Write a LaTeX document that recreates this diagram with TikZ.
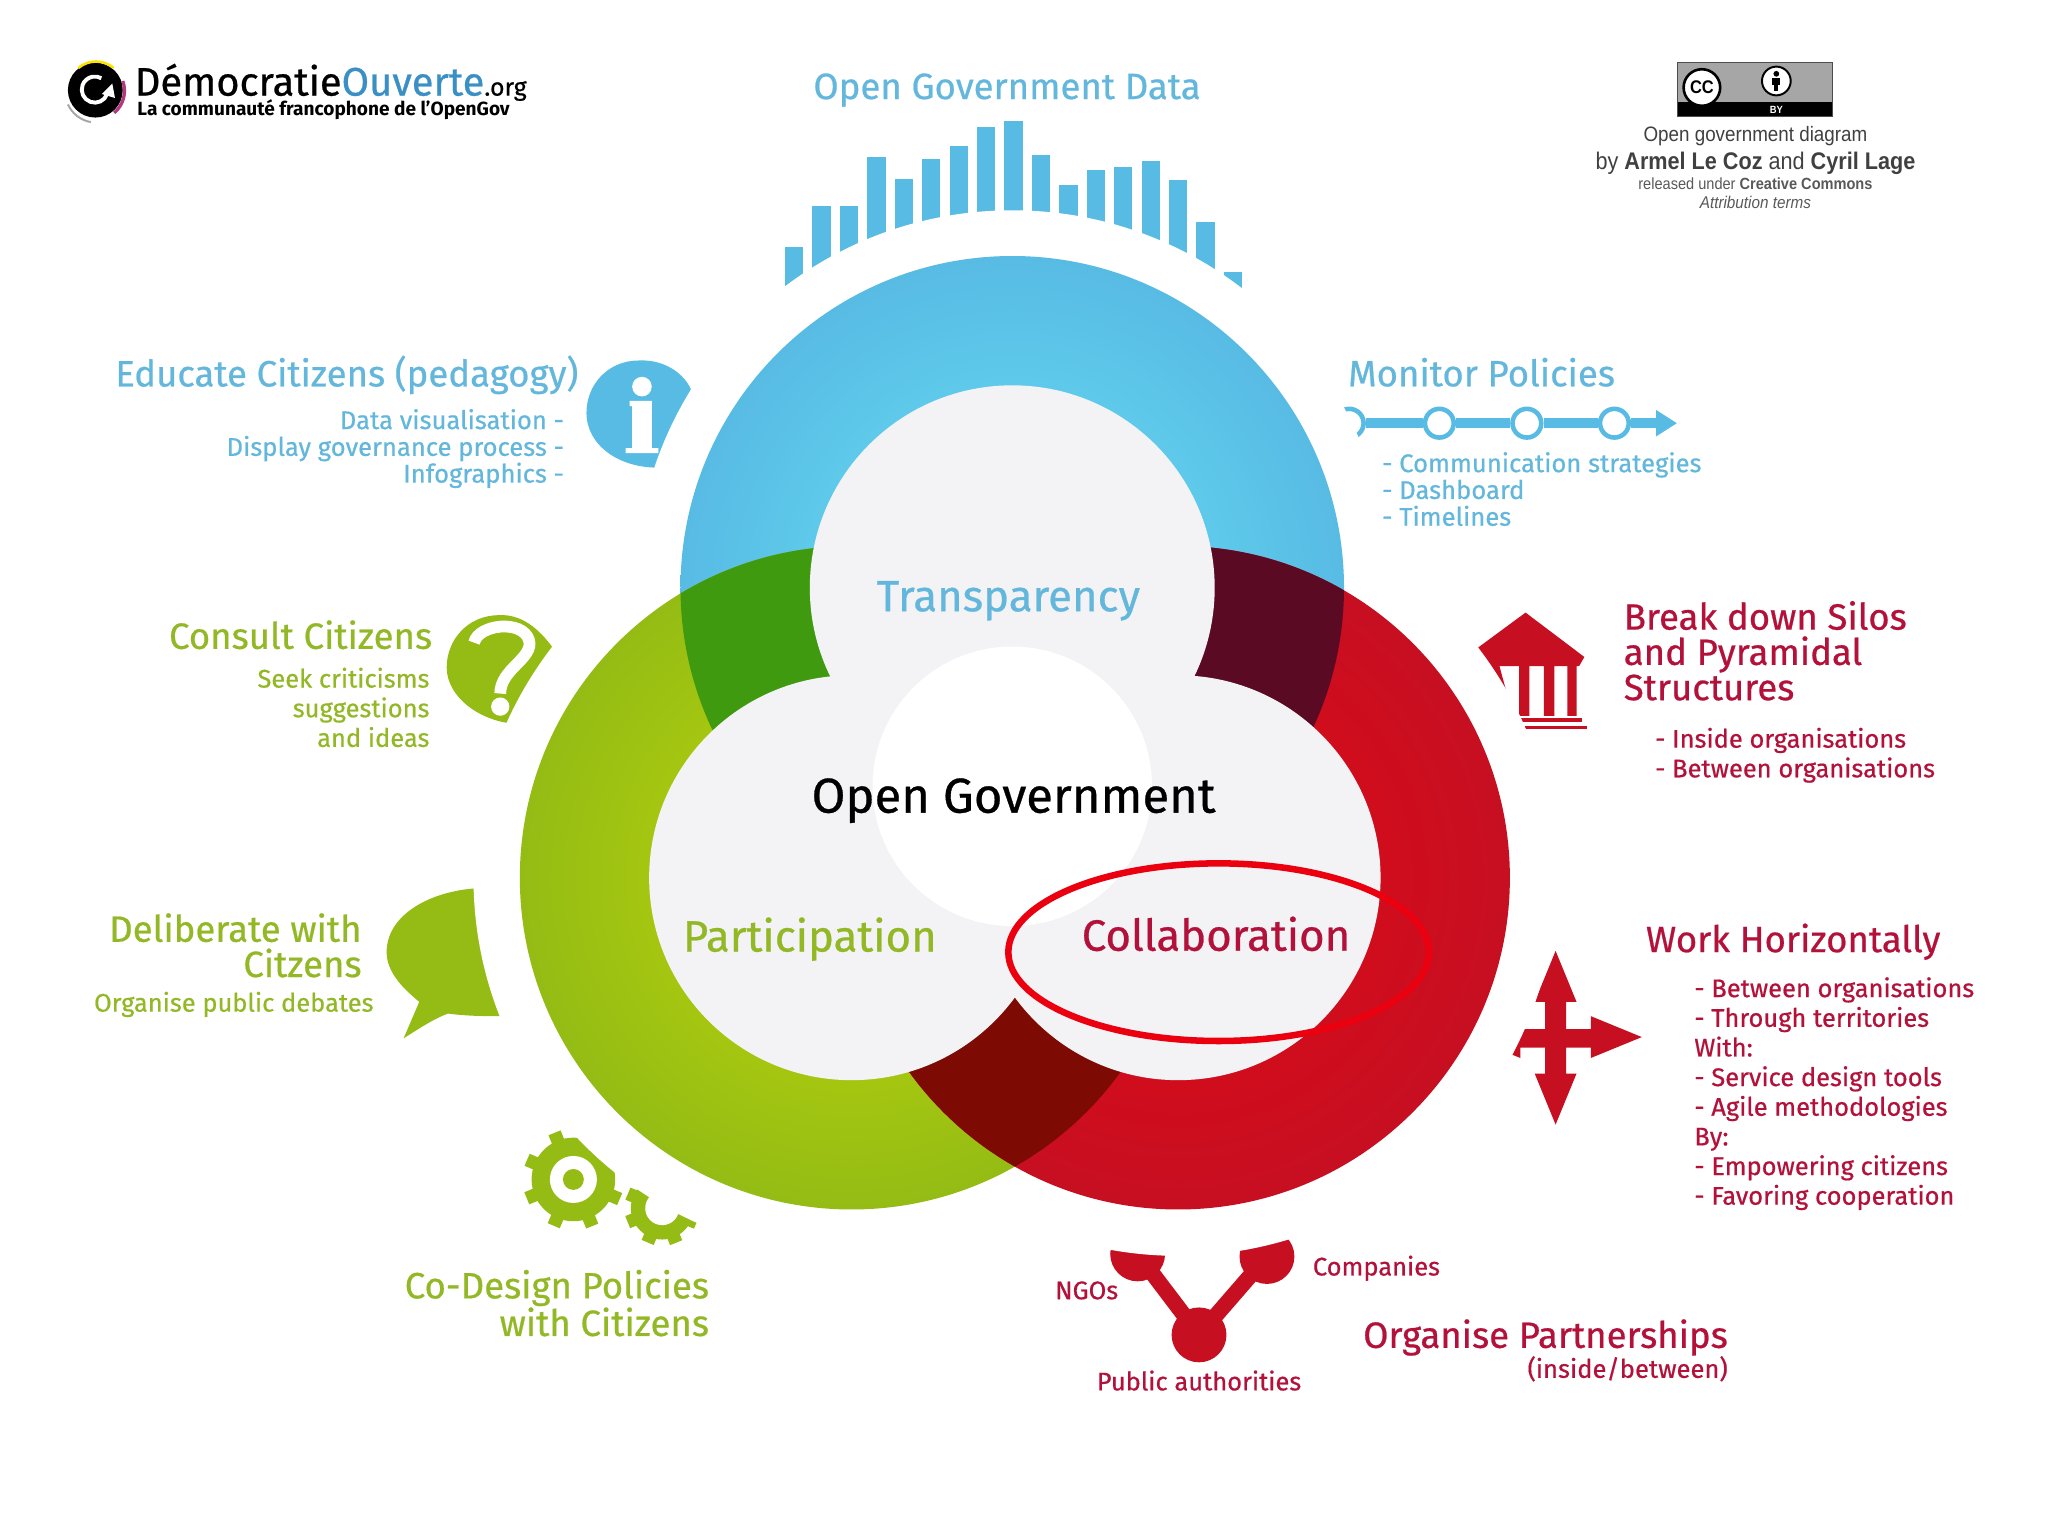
\documentclass[tikz,border=0pt]{standalone}
\usepackage{fontspec}
\setmainfont{Fira Sans}
\newfontfamily\medfont{Fira Sans}[FakeBold=0.6]
\newfontfamily\ccfont{Liberation Sans}[FakeStretch=0.9]
\usetikzlibrary{arrows.meta}
\definecolor{tblue}{HTML}{63B7DC}
\definecolor{tgreen}{HTML}{93B826}
\definecolor{tred}{HTML}{B3113A}
\definecolor{iblue}{HTML}{58BBE4}
\definecolor{igreen}{HTML}{94BC14}
\definecolor{ired}{HTML}{C70F22}
\definecolor{discgrey}{HTML}{F3F3F6}
\definecolor{darkgreen}{HTML}{3F9A10}
\definecolor{darkwine}{HTML}{5A0A22}
\definecolor{darkbrown}{HTML}{7E0A04}
\definecolor{ellred}{HTML}{EB000F}
\definecolor{ouverte}{HTML}{3A8FC4}
\begin{document}
\begin{tikzpicture}[x=1pt, y=-1pt,
  every node/.style={inner sep=0pt},
  head/.style={font=\medfont\fontsize{28}{27}\selectfont},
  big/.style={font=\medfont\fontsize{33.5}{34}\selectfont},
  sub/.style={font=\medfont\fontsize{19.6}{20.5}\selectfont},
  subb/.style={font=\medfont\fontsize{19.5}{22.7}\selectfont},
  cutter/.style={fill=white},
  tick/.style={circle, draw=iblue, fill=white, line width=3.5pt, minimum size=22pt},
  lobe/.style={circle, fill=ired, minimum size=42pt},
  link/.style={ired, line width=12pt}]
\useasboundingbox (0,0) rectangle (1568,1176);
\coordinate (cblue) at (775,450);
\coordinate (cgreen) at (652,672);
\coordinate (cred) at (902,672);

% data bars
\foreach \t [count=\i from 0] in {189,158,158,120,137,122,112,97,93,119,142,130,128,123,138,170,208}
  \fill[iblue] ({601+21*\i},\t) rectangle ({615+21*\i},260);

% timeline
\node[tick] (tstart) at (1033,324) {};
\node[tick] (tone) at (1102,324) {};
\node[tick] (ttwo) at (1169,324) {};
\node[tick] (tthree) at (1236,324) {};
\coordinate (tend) at (1284,324);
\draw[iblue, line width=8pt] (tstart) -- (tone);
\draw[iblue, line width=8pt] (tone) -- (ttwo);
\draw[iblue, line width=8pt] (ttwo) -- (tthree);
\draw[iblue, line width=8pt, -{Triangle[length=16pt,width=19pt]}] (tthree) -- (tend);

% info icon
\fill[iblue] (529,298) .. controls (522,283) and (505,275) .. (489,276)
  .. controls (465,276) and (449,295) .. (449,316)
  .. controls (449,341) and (474,358) .. (503,358)
  .. controls (511,340) and (520,318) .. (529,298) -- cycle;
\fill[white] (491.5,296) circle[radius=7.5];
\fill[white] (482,307) -- (499,307) -- (499,343) -- (504,343) -- (504,347) -- (479,347)
  -- (479,343) -- (484,343) -- (484,311) -- (482,311) -- cycle;

% question icon
\fill[igreen] (424,497) .. controls (412,480) and (398,470) .. (382,471)
  .. controls (358,471) and (342,490) .. (342,511)
  .. controls (342,534) and (368,552) .. (393,554)
  .. controls (404,535) and (414,515) .. (424,497) -- cycle;
\draw[white, line width=9pt] (363,492) .. controls (366,478) and (400,474) .. (405,490)
  .. controls (409,504) and (383,512) .. (383,531);
\fill[white] (383,541) circle[radius=7];

% speech bubble
\fill[igreen] (366,680) .. controls (330,682) and (296,700) .. (296,729)
  .. controls (296,745) and (310,758) .. (321,767) -- (309,795)
  .. controls (320,788) and (332,780) .. (343,776)
  .. controls (358,778) and (372,778) .. (384,778)
  .. controls (375,750) and (368,715) .. (366,680) -- cycle;

% gears
\foreach \gx/\gy/\gr/\gt in {439/903/32/38.5, 507/925/24/28.5} {
  \fill[igreen] (\gx,\gy) circle[radius=\gr];
  \foreach \a in {0,45,...,315}
    \fill[igreen, shift={(\gx,\gy)}, rotate=\a+22] (-5,0) rectangle (5,\gt);
}
\fill[white] (439,903) circle[radius=18];
\fill[igreen] (439,903) circle[radius=8];
\fill[white] (507,925) circle[radius=13];

% temple
\fill[ired] (1168,469) -- (1213,503) -- (1209,510) -- (1207,510) -- (1207,548) -- (1200,548)
  -- (1200,510) -- (1190,510) -- (1190,548) -- (1182,548) -- (1182,510) -- (1171,510)
  -- (1171,548) -- (1163,548) -- (1163,510) -- (1148,510) -- (1154,532) -- (1120,490) -- (1130,497) -- cycle;
\fill[ired] (1162,550) rectangle (1211,553);
\fill[ired] (1166,555.5) rectangle (1215,558);

% cross arrows
\fill[ired] (1191,728) -- (1207,767) -- (1199,767) -- (1199,788) -- (1218,788) -- (1218,778)
  -- (1257,794) -- (1218,810) -- (1218,802) -- (1199,802) -- (1199,822) -- (1207,822)
  -- (1191,861) -- (1175,822) -- (1183,822) -- (1183,802) -- (1164,802) -- (1164,810)
  -- (1124,794) -- (1164,778) -- (1164,788) -- (1183,788) -- (1183,767) -- (1175,767) -- cycle;

% partnerships
\node[lobe] (pubauth) at (918,1022) {};
\node[lobe] (ngo) at (871,960) {};
\node[lobe] (company) at (970,962) {};
\draw[link] (pubauth.center) -- (ngo.center);
\draw[link] (pubauth.center) -- (company.center);

% white gap round the rings
\fill[cutter] (cblue) circle[radius=289];
\fill[cutter] (cgreen) circle[radius=289.5];
\fill[cutter] (cred) circle[radius=289.5];

% rings
\shade[inner color=iblue!60!cyan!75!white, outer color=iblue] (cblue) circle[radius=254];
\shade[inner color=igreen!60!yellow, outer color=igreen] (cgreen) circle[radius=254];
\shade[inner color=red!40!ired, outer color=ired] (cred) circle[radius=254];
\begin{scope}
  \clip (cgreen) circle[radius=254];
  \fill[darkgreen] (cblue) circle[radius=254];
\end{scope}
\begin{scope}
  \clip (cred) circle[radius=254];
  \fill[darkwine] (cblue) circle[radius=254];
\end{scope}
\begin{scope}
  \clip (cred) circle[radius=254];
  \fill[darkbrown] (cgreen) circle[radius=254];
\end{scope}
\fill[discgrey] (cblue) circle[radius=155];
\fill[discgrey] (cgreen) circle[radius=155];
\fill[discgrey] (cred) circle[radius=155];
\fill[white] (775,602) circle[radius=107];

\draw[ellred, line width=5pt] (933,729) ellipse[x radius=161, y radius=68];

% centre labels
\node[font=\medfont\fontsize{37.5}{38}\selectfont, text=black] (opengov) at (776,613) {Open Government};
\node[big, text=tblue] (transparency) at (772,460) {Transparency};
\node[big, text=tgreen] (participation) at (620,719) {Participation};
\node[big, text=tred] (collaboration) at (931,715) {Collaboration};

% blue labels
\node[head, text=tblue] (ogdata) at (771,69) {Open Government Data};
\node[head, text=tblue, anchor=east] (educate) at (443,287) {Educate Citizens (pedagogy)};
\node[sub, text=tblue, anchor=north east, align=right] (educatelist) at (432,313)
  {Data visualisation -\\Display governance process -\\Infographics -};
\node[head, text=tblue, anchor=west] (monitor) at (1032,285) {Monitor Policies};
\node[sub, text=tblue, anchor=north west, align=left] (monitorlist) at (1058,346)
  {- Communication strategies\\- Dashboard\\- Timelines};

% green labels
\node[head, text=tgreen, anchor=east] (consult) at (331,486) {Consult Citizens};
\node[subb, text=tgreen, anchor=north east, align=right] (consultlist) at (329,511)
  {Seek criticisms\\suggestions\\and ideas};
\node[head, text=tgreen, anchor=north east, align=right] (deliberate) at (277,699)
  {Deliberate with\\Citzens};
\node[subb, text=tgreen] (debates) at (179,769) {Organise public debates};
\node[head, text=tgreen, anchor=north east, align=right] (codesign) at (543,972)
  {Co-Design Policies\\with Citizens};

% red labels
\node[head, text=tred, anchor=north west, align=left] (silos) at (1243,460)
  {Break down Silos\\and Pyramidal\\Structures};
\node[subb, text=tred, anchor=north west, align=left] (siloslist) at (1267,557)
  {- Inside organisations\\- Between organisations};
\node[head, text=tred, anchor=west] (horizontal) at (1260,721) {Work Horizontally};
\node[subb, text=tred, anchor=north west, align=left] (horizontallist) at (1297,748)
  {- Between organisations\\- Through territories\\With:\\- Service design tools\\- Agile methodologies\\By:\\- Empowering citizens\\- Favoring cooperation};
\node[subb, text=tred] (ngolabel) at (832,988) {NGOs};
\node[subb, text=tred, anchor=west] (companylabel) at (1005,971) {Companies};
\node[subb, text=tred] (publabel) at (918,1057) {Public authorities};
\node[head, text=tred, anchor=east] (partners) at (1323,1024) {Organise Partnerships};
\node[sub, text=tred, anchor=east] (partnerssub) at (1323,1048) {(inside/between)};

% logo
\fill[black] (73,69) circle[radius=21];
\draw[yellow!85!orange, line width=2pt] (60,52) arc[start angle=-130, end angle=-50, radius=21];
\draw[magenta!70!black, line width=2.5pt] (94,62) arc[start angle=-20, end angle=50, radius=22];
\draw[black!35, line width=1.5pt] (52,80) arc[start angle=155, end angle=100, radius=24];
\draw[white, line width=3pt] (82,72) arc[start angle=20, end angle=300, radius=10];
\fill[white] (86,64) -- (78,72) -- (88,75) -- cycle;
\node[font=\medfont\fontsize{30.5}{32}\selectfont, anchor=west] (logotext) at (103,63)
  {Démocratie\textcolor{ouverte}{Ouverte}\fontsize{19}{20}\selectfont.org};
\node[font=\bfseries\fontsize{14.6}{15}\selectfont, anchor=west] (logosub) at (105,84)
  {La communauté francophone de l'OpenGov};

% licence badge
\fill[black!35] (1284,48) rectangle (1403,78);
\fill[black] (1284,78) rectangle (1403,89);
\draw[black!70] (1284,48) rectangle (1403,89);
\node[circle, draw=black, fill=white, line width=2pt, minimum size=28pt, font=\ccfont\bfseries\fontsize{14}{14}\selectfont] (ccmark) at (1303,67) {CC};
\node[circle, draw=black, fill=white, line width=1.5pt, minimum size=22pt] (bymark) at (1360,62) {};
\fill[black] (1360,56.5) circle[radius=2.2];
\fill[black] (1357,59.5) rectangle (1363,65);
\fill[black] (1358.5,65) rectangle (1361.5,70);
\node[font=\ccfont\bfseries\fontsize{8}{8}\selectfont, text=white] (bytext) at (1360,84) {BY};
\node[font=\ccfont\fontsize{16}{17}\selectfont, text=black!75] (credone) at (1344,104) {Open government diagram};
\node[font=\ccfont\fontsize{18.4}{19}\selectfont, text=black!75] (credtwo) at (1344,125) {by \textbf{Armel Le Coz} and \textbf{Cyril Lage}};
\node[font=\ccfont\fontsize{12.4}{13}\selectfont, text=black!65] (credthree) at (1344,141) {released under \textbf{Creative Commons}};
\node[font=\ccfont\itshape\fontsize{13}{13}\selectfont, text=black!65] (credfour) at (1344,155) {Attribution terms};
\end{tikzpicture}
\end{document}
